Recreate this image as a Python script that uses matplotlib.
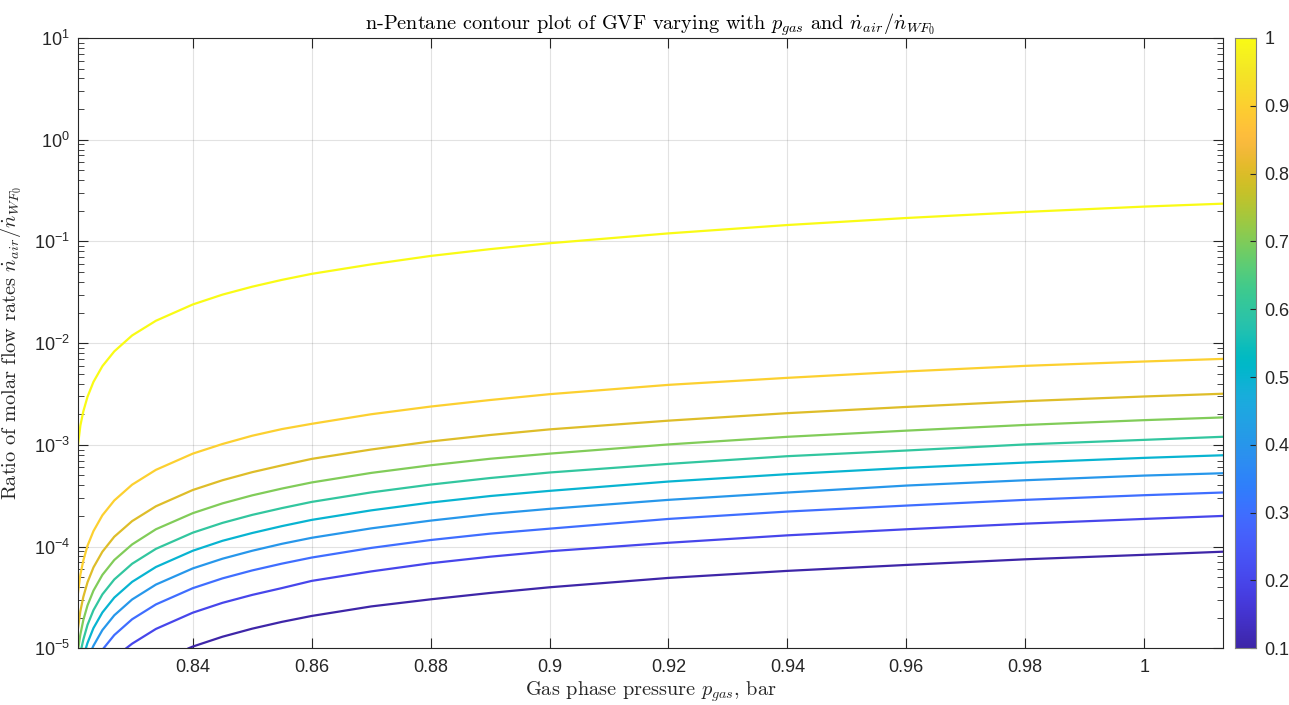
import numpy as np
import matplotlib
matplotlib.use("Agg")
import matplotlib.pyplot as plt
from matplotlib.colors import LinearSegmentedColormap, Normalize
import matplotlib.ticker as mticker

# ---------------- data ----------------
gvf_levels = [0.1, 0.2, 0.3, 0.4, 0.5, 0.6, 0.7, 0.8, 0.9, 1.0]

# pressures shared by the middle / right part of every contour line
p_mid = [0.845, 0.85, 0.855, 0.86, 0.87, 0.88, 0.89, 0.90, 0.92, 0.94, 0.96, 0.98, 1.00, 1.0131]

p_01 = [0.8393, 0.84] + p_mid
r_01 = [1.0e-5, 1.04e-5,
        1.30e-5, 1.56e-5, 1.82e-5, 2.08e-5, 2.58e-5, 3.03e-5, 3.5e-5, 3.98e-5,
        4.92e-5, 5.77e-5, 6.6e-5, 7.5e-5, 8.3e-5, 8.9e-5]

p_02 = [0.8288, 0.8298, 0.8338, 0.84] + p_mid
r_02 = [1.0e-5, 1.11e-5, 1.55e-5, 2.24e-5,
        2.8e-5, 3.35e-5, 3.91e-5, 4.6e-5, 5.7e-5, 6.86e-5, 7.95e-5, 9.0e-5,
        1.09e-4, 1.29e-4, 1.48e-4, 1.68e-4, 1.87e-4, 2.0e-4]

p_03 = [0.8250, 0.8268, 0.8298, 0.8338, 0.84] + p_mid
r_03 = [1.0e-5, 1.35e-5, 1.93e-5, 2.70e-5, 3.9e-5,
        4.87e-5, 5.83e-5, 6.8e-5, 7.8e-5, 9.7e-5, 1.16e-4, 1.34e-4, 1.50e-4,
        1.87e-4, 2.21e-4, 2.53e-4, 2.88e-4, 3.2e-4, 3.40e-4]

p_04 = [0.8231, 0.8233, 0.8248, 0.8268, 0.8298, 0.8338, 0.84] + p_mid
r_04 = [1.0e-5, 1.06e-5, 1.51e-5, 2.11e-5, 3.02e-5, 4.23e-5, 6.1e-5,
        7.6e-5, 9.1e-5, 1.065e-4, 1.22e-4, 1.51e-4, 1.80e-4, 2.09e-4, 2.35e-4,
        2.88e-4, 3.40e-4, 3.98e-4, 4.49e-4, 4.99e-4, 5.26e-4]

p_05 = [0.82202, 0.8223, 0.8233, 0.8248, 0.8268, 0.8298, 0.8338, 0.84] + p_mid
r_05 = [1.0e-5, 1.13e-5, 1.58e-5, 2.25e-5, 3.15e-5, 4.5e-5, 6.3e-5, 9.1e-5,
        1.14e-4, 1.36e-4, 1.59e-4, 1.83e-4, 2.27e-4, 2.71e-4, 3.14e-4, 3.53e-4,
        4.36e-4, 5.15e-4, 5.94e-4, 6.7e-4, 7.45e-4, 7.9e-4]

p_06 = [0.82127, 0.8216, 0.8223, 0.8233, 0.8248, 0.8268, 0.8298, 0.8338, 0.84] + p_mid
r_06 = [1.0e-5, 1.22e-5, 1.70e-5, 2.37e-5, 3.39e-5, 4.75e-5, 6.78e-5, 9.5e-5, 1.37e-4,
        1.71e-4, 2.05e-4, 2.39e-4, 2.75e-4, 3.41e-4, 4.07e-4, 4.72e-4, 5.35e-4,
        6.5e-4, 7.74e-4, 8.8e-4, 1.01e-3, 1.12e-3, 1.20e-3]

p_07 = [0.82075, 0.8211, 0.8216, 0.8223, 0.8233, 0.8248, 0.8268, 0.8298, 0.8338, 0.84] + p_mid
r_07 = [1.0e-5, 1.37e-5, 1.90e-5, 2.64e-5, 3.69e-5, 5.27e-5, 7.38e-5, 1.05e-4, 1.48e-4, 2.13e-4,
        2.66e-4, 3.19e-4, 3.72e-4, 4.27e-4, 5.3e-4, 6.3e-4, 7.3e-4, 8.2e-4,
        1.01e-3, 1.20e-3, 1.38e-3, 1.57e-3, 1.75e-3, 1.86e-3]

p_08 = [0.8207, 0.8211, 0.8216, 0.8223, 0.8233, 0.8248, 0.8268, 0.8298, 0.8338, 0.84] + p_mid
r_08 = [1.57e-5, 2.32e-5, 3.21e-5, 4.46e-5, 6.24e-5, 8.9e-5, 1.25e-4, 1.78e-4, 2.49e-4, 3.6e-4,
        4.49e-4, 5.39e-4, 6.29e-4, 7.28e-4, 9.0e-4, 1.08e-3, 1.25e-3, 1.42e-3,
        1.73e-3, 2.05e-3, 2.36e-3, 2.69e-3, 2.99e-3, 3.18e-3]

p_09 = [0.8207, 0.8211, 0.8216, 0.8223, 0.8233, 0.8248, 0.8268, 0.8298, 0.8338, 0.84] + p_mid
r_09 = [3.5e-5, 5.3e-5, 7.3e-5, 1.02e-4, 1.42e-4, 2.03e-4, 2.84e-4, 4.06e-4, 5.68e-4, 8.2e-4,
        1.02e-3, 1.23e-3, 1.43e-3, 1.61e-3, 2.0e-3, 2.38e-3, 2.76e-3, 3.15e-3,
        3.89e-3, 4.56e-3, 5.27e-3, 5.98e-3, 6.6e-3, 7.0e-3]

p_10 = [0.8207, 0.8211, 0.8216, 0.8223, 0.8233, 0.8248, 0.8268, 0.8298, 0.8338, 0.84] + p_mid
r_10 = [1.0e-3, 1.55e-3, 2.14e-3, 2.97e-3, 4.16e-3, 5.94e-3, 8.3e-3, 1.19e-2, 1.66e-2, 2.4e-2,
        3.0e-2, 3.59e-2, 4.19e-2, 4.8e-2, 5.95e-2, 7.2e-2, 8.4e-2, 9.6e-2,
        0.12, 0.145, 0.17, 0.195, 0.22, 0.235]

pressure_series = [p_01, p_02, p_03, p_04, p_05, p_06, p_07, p_08, p_09, p_10]
ratio_series = [r_01, r_02, r_03, r_04, r_05, r_06, r_07, r_08, r_09, r_10]

x_ticks = [0.84, 0.86, 0.88, 0.9, 0.92, 0.94, 0.96, 0.98, 1.0]
x_tick_labels = ["0.84", "0.86", "0.88", "0.9", "0.92", "0.94", "0.96", "0.98", "1"]
cbar_ticks = [0.1, 0.2, 0.3, 0.4, 0.5, 0.6, 0.7, 0.8, 0.9, 1.0]
cbar_labels = ["0.1", "0.2", "0.3", "0.4", "0.5", "0.6", "0.7", "0.8", "0.9", "1"]

# ---------------- parula colormap ----------------
parula_rgb = [
    (0.2422, 0.1504, 0.6603), (0.2504, 0.1650, 0.7076), (0.2578, 0.1818, 0.7511),
    (0.2647, 0.1978, 0.7952), (0.2706, 0.2147, 0.8364), (0.2751, 0.2342, 0.8710),
    (0.2783, 0.2559, 0.8991), (0.2803, 0.2782, 0.9221), (0.2813, 0.3006, 0.9414),
    (0.2810, 0.3228, 0.9579), (0.2795, 0.3447, 0.9717), (0.2760, 0.3667, 0.9829),
    (0.2699, 0.3892, 0.9906), (0.2602, 0.4123, 0.9952), (0.2440, 0.4358, 0.9988),
    (0.2206, 0.4603, 0.9973), (0.1963, 0.4847, 0.9892), (0.1834, 0.5074, 0.9798),
    (0.1786, 0.5289, 0.9682), (0.1764, 0.5499, 0.9520), (0.1687, 0.5703, 0.9359),
    (0.1540, 0.5902, 0.9218), (0.1460, 0.6091, 0.9079), (0.1380, 0.6276, 0.8973),
    (0.1248, 0.6459, 0.8883), (0.1113, 0.6635, 0.8763), (0.0952, 0.6798, 0.8598),
    (0.0689, 0.6948, 0.8394), (0.0297, 0.7082, 0.8163), (0.0036, 0.7203, 0.7917),
    (0.0067, 0.7312, 0.7660), (0.0433, 0.7411, 0.7394), (0.0964, 0.7500, 0.7120),
    (0.1408, 0.7584, 0.6842), (0.1717, 0.7670, 0.6554), (0.1938, 0.7758, 0.6251),
    (0.2161, 0.7843, 0.5923), (0.2470, 0.7918, 0.5567), (0.2906, 0.7973, 0.5188),
    (0.3406, 0.8008, 0.4789), (0.3909, 0.8029, 0.4354), (0.4456, 0.8024, 0.3909),
    (0.5044, 0.7993, 0.3480), (0.5616, 0.7942, 0.3045), (0.6174, 0.7876, 0.2612),
    (0.6720, 0.7793, 0.2227), (0.7242, 0.7698, 0.1910), (0.7738, 0.7598, 0.1646),
    (0.8203, 0.7498, 0.1535), (0.8634, 0.7406, 0.1596), (0.9035, 0.7330, 0.1774),
    (0.9393, 0.7288, 0.2100), (0.9728, 0.7298, 0.2394), (0.9956, 0.7434, 0.2371),
    (0.9970, 0.7659, 0.2199), (0.9952, 0.7893, 0.2028), (0.9892, 0.8136, 0.1885),
    (0.9786, 0.8386, 0.1766), (0.9676, 0.8639, 0.1643), (0.9610, 0.8890, 0.1537),
    (0.9597, 0.9135, 0.1423), (0.9628, 0.9373, 0.1265), (0.9691, 0.9606, 0.1064),
    (0.9769, 0.9839, 0.0805)]
parula = LinearSegmentedColormap.from_list("parula", parula_rgb, N=256)
norm = Normalize(vmin=0.1, vmax=1.0)

# ---------------- styling ----------------
plt.rcParams["font.family"] = ["Liberation Sans", "DejaVu Sans"]
plt.rcParams["mathtext.fontset"] = "cm"
axis_col = "#262626"
serif_font = "cmr10"
label_size = 14.6
tick_size = 13

W, H = 1289, 705
fig = plt.figure(figsize=(W / 100, H / 100), dpi=100)
ax = fig.add_axes([78 / W, 1 - 648.3 / H, (1223 - 78) / W, (648.3 - 38) / H])
cax = fig.add_axes([1235 / W, 1 - 648.3 / H, 21 / W, (648.3 - 38) / H])

for lvl, px, ry in zip(gvf_levels, pressure_series, ratio_series):
    ax.plot(px, ry, color=parula(norm(lvl)), lw=1.6, solid_joinstyle="round")

ax.set_yscale("log")
ax.set_xlim(0.8207, 1.01325)
ax.set_ylim(1e-5, 1e1)
ax.set_xticks(x_ticks)
ax.set_xticklabels(x_tick_labels)
ax.yaxis.set_major_locator(mticker.LogLocator(base=10, numticks=10))
ax.yaxis.set_minor_locator(mticker.LogLocator(base=10, subs=np.arange(2, 10), numticks=100))
ax.yaxis.set_minor_formatter(mticker.NullFormatter())

ax.grid(True, which="major", color="#262626", alpha=0.13, lw=0.8)
ax.tick_params(which="both", direction="in", top=True, right=True, colors=axis_col,
               labelcolor=axis_col, labelsize=tick_size)
ax.tick_params(which="major", length=7, width=0.8)
ax.tick_params(which="minor", length=4, width=0.6)
ax.tick_params(axis="x", pad=8)
ax.tick_params(axis="y", pad=6)
for s in ax.spines.values():
    s.set_color(axis_col)
    s.set_linewidth(0.8)

ax.set_title(r"n-Pentane contour plot of GVF varying with $p_{gas}$ and $\dot{n}_{air}/\dot{n}_{WF_0}$",
             fontfamily=serif_font, fontsize=label_size, color="black", pad=6)
ax.set_xlabel(r"Gas phase pressure $p_{gas}$, bar", fontfamily=serif_font, fontsize=label_size,
              color=axis_col, labelpad=2)
ax.set_ylabel(r"Ratio of molar flow rates $\dot{n}_{air}/\dot{n}_{WF_0}$", fontfamily=serif_font,
              fontsize=label_size, color=axis_col)
ax.yaxis.set_label_coords(-0.047, 0.5)

# colorbar
grad = np.linspace(0.1, 1.0, 256).reshape(-1, 1)
cax.imshow(grad, aspect="auto", cmap=parula, norm=norm, origin="lower",
           extent=[0, 1, 0.1, 1.0])
cax.set_xlim(0, 1)
cax.set_ylim(0.1, 1.0)
cax.set_xticks([])
cax.yaxis.tick_right()
cax.set_yticks(cbar_ticks)
cax.set_yticklabels(cbar_labels)
cax.tick_params(axis="y", direction="in", length=4, width=0.8, colors=axis_col,
                labelcolor=axis_col, labelsize=tick_size, pad=6)
for s in cax.spines.values():
    s.set_color("#808080")
    s.set_linewidth(0.8)

fig.savefig("out.png", dpi=100, facecolor="white")
